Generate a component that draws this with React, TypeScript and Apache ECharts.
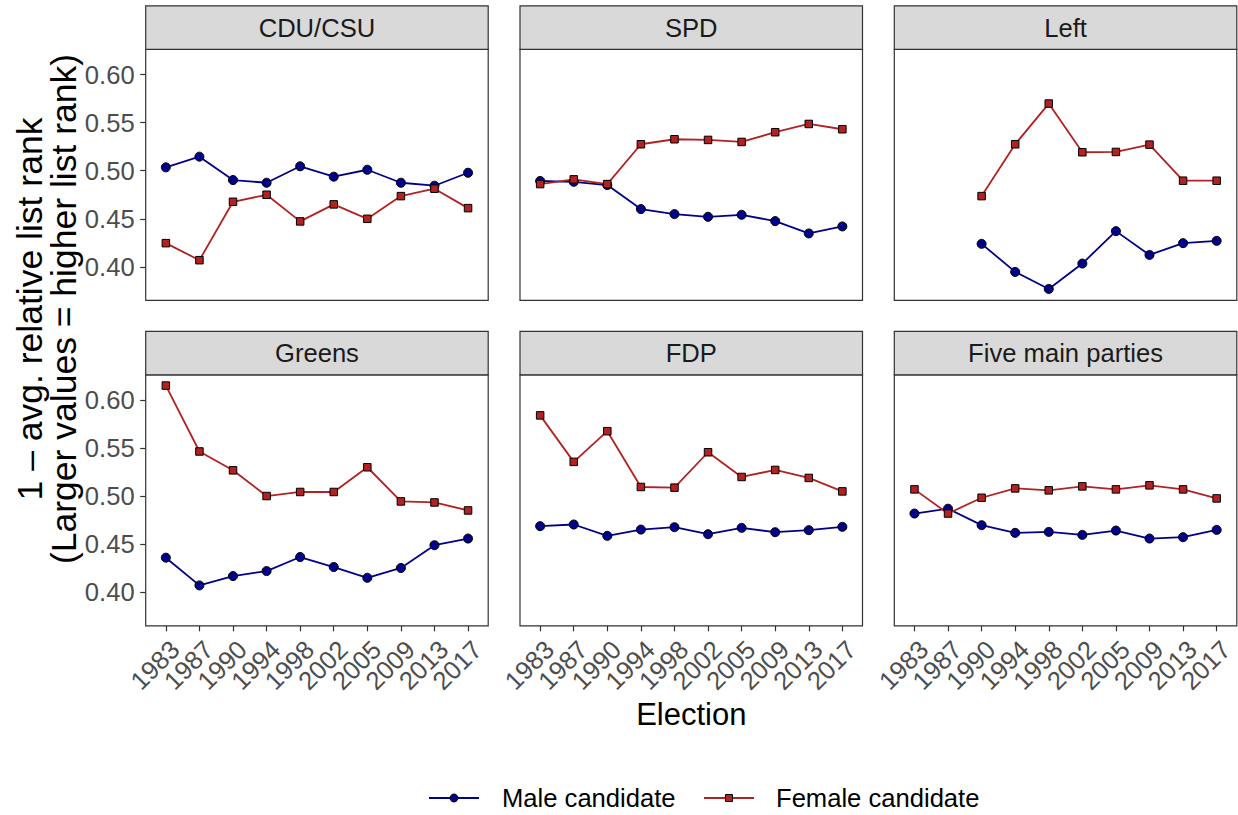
import React, { useEffect, useRef } from "react";
import * as echarts from "echarts";

const years = ["1983", "1987", "1990", "1994", "1998", "2002", "2005", "2009", "2013", "2017"];
const panelTitles = ["CDU/CSU", "SPD", "Left", "Greens", "FDP", "Five main parties"];
const yTicks = [0.4, 0.45, 0.5, 0.55, 0.6];

const cduMale = [0.5035, 0.5146, 0.4903, 0.4875, 0.5046, 0.4938, 0.501, 0.4875, 0.4844, 0.4979];
const cduFemale = [0.4247, 0.407, 0.4677, 0.475, 0.4473, 0.465, 0.45, 0.4736, 0.4813, 0.4611];
const spdMale = [0.4893, 0.4885, 0.4851, 0.4601, 0.4549, 0.4521, 0.4542, 0.4476, 0.4348, 0.4421];
const spdFemale = [0.4861, 0.491, 0.4861, 0.5275, 0.5327, 0.532, 0.5299, 0.54, 0.5486, 0.5431];
const leftMale = [null, null, 0.424, 0.3948, 0.3771, 0.4035, 0.4372, 0.4125, 0.4247, 0.4271];
const leftFemale = [null, null, 0.4736, 0.5275, 0.5698, 0.5192, 0.5195, 0.5271, 0.4896, 0.4896];
const greensMale = [0.4361, 0.4073, 0.417, 0.4222, 0.4368, 0.4264, 0.4152, 0.4254, 0.4491, 0.456];
const greensFemale = [0.615, 0.5465, 0.5269, 0.5002, 0.5044, 0.5044, 0.5301, 0.4946, 0.4935, 0.4852];
const fdpMale = [0.4689, 0.4706, 0.4588, 0.4653, 0.4678, 0.4605, 0.4671, 0.4626, 0.4647, 0.4682];
const fdpFemale = [0.584, 0.5357, 0.5676, 0.5096, 0.5089, 0.5457, 0.52, 0.5273, 0.519, 0.505];
const allMale = [0.482, 0.487, 0.4699, 0.4619, 0.4629, 0.4598, 0.4643, 0.456, 0.4574, 0.465];
const allFemale = [0.5071, 0.482, 0.4984, 0.5081, 0.5061, 0.5102, 0.5071, 0.5113, 0.5071, 0.4977];

const maleSeries = [cduMale, spdMale, leftMale, greensMale, fdpMale, allMale];
const femaleSeries = [cduFemale, spdFemale, leftFemale, greensFemale, fdpFemale, allFemale];

const MALE_NAME = "Male candidate";
const FEMALE_NAME = "Female candidate";
const Y_TITLE_1 = "1 \u2013 avg. relative list rank";
const Y_TITLE_2 = "(Larger values = higher list rank)";
const X_TITLE = "Election";

const FONT = "'Liberation Sans', Arial, Helvetica, sans-serif";
const MALE_COLOR = "#00008B";
const FEMALE_COLOR = "#B22222";
const BORDER = "#333333";

const colLeft = [145.7, 520, 894.3];
const plotW = 342.5;
const rowTop = [49.3, 374.8];
const plotH = 251;
const stripH = 43.5;
const yMin = 0.3653;
const yMax = 0.6262;

function toPairs(arr: (number | null)[]) {
  const out: [number, number][] = [];
  arr.forEach((v, i) => {
    if (v !== null) out.push([i, v]);
  });
  return out;
}

export default function App() {
  const ref = useRef<HTMLDivElement>(null);
  useEffect(() => {
    if (!ref.current) return;
    const chart = echarts.init(ref.current, undefined, { renderer: "svg" });
    const grids: any[] = [];
    const xAxes: any[] = [];
    const yAxes: any[] = [];
    const series: any[] = [];
    const graphics: any[] = [];
    const idx = years.map((_, i) => i);
    const evenIdx = idx.filter((i) => i % 2 === 0);
    const oddIdx = idx.filter((i) => i % 2 === 1);

    const xLabelStyle = (show: boolean, values: number[]) => ({
      show,
      customValues: values,
      showMinLabel: true,
      showMaxLabel: true,
      hideOverlap: false,
      formatter: (v: number) => years[Math.round(v)] ?? "",
      rotate: 45,
      align: "right",
      verticalAlign: "top",
      margin: 10,
      fontSize: 25.6,
      color: "#4D4D4D",
      fontFamily: FONT,
    });

    panelTitles.forEach((title, p) => {
      const r = Math.floor(p / 3);
      const c = p % 3;
      const left = colLeft[c];
      const top = rowTop[r];
      grids.push({
        left,
        top,
        width: plotW,
        height: plotH,
        show: true,
        borderColor: BORDER,
        borderWidth: 1.2,
        backgroundColor: "#ffffff",
        containLabel: false,
      });
      const bottomRow = r === 1;
      const mainX = xAxes.length;
      xAxes.push({
        type: "value",
        gridIndex: p,
        position: "bottom",
        min: -0.6,
        max: 9.6,
        axisLine: { show: false, onZero: false },
        splitLine: { show: false },
        axisTick: {
          show: bottomRow,
          customValues: idx,
          length: 5.5,
          lineStyle: { color: BORDER, width: 1.2 },
        },
        axisLabel: xLabelStyle(bottomRow, evenIdx),
      });
      if (bottomRow) {
        xAxes.push({
          type: "value",
          gridIndex: p,
          position: "bottom",
          offset: 0,
          min: -0.6,
          max: 9.6,
          axisLine: { show: false, onZero: false },
          splitLine: { show: false },
          axisTick: { show: false },
          axisLabel: xLabelStyle(true, oddIdx),
        });
      }
      const firstCol = c === 0;
      yAxes.push({
        type: "value",
        gridIndex: p,
        min: yMin,
        max: yMax,
        axisLine: { show: false, onZero: false },
        splitLine: { show: false },
        axisTick: {
          show: firstCol,
          customValues: yTicks,
          length: 5.5,
          lineStyle: { color: BORDER, width: 1.2 },
        },
        axisLabel: {
          show: firstCol,
          customValues: yTicks,
          showMinLabel: true,
          showMaxLabel: true,
          formatter: (v: number) => v.toFixed(2),
          margin: 11,
          fontSize: 25.6,
          color: "#4D4D4D",
          fontFamily: FONT,
        },
      });
      series.push({
        type: "line",
        name: MALE_NAME,
        xAxisIndex: mainX,
        yAxisIndex: p,
        data: toPairs(maleSeries[p]),
        symbol: "circle",
        symbolSize: 9,
        showAllSymbol: true,
        lineStyle: { color: MALE_COLOR, width: 1.8 },
        itemStyle: { color: MALE_COLOR, borderColor: "#000000", borderWidth: 1 },
        emphasis: { disabled: true },
      });
      series.push({
        type: "line",
        name: FEMALE_NAME,
        xAxisIndex: mainX,
        yAxisIndex: p,
        data: toPairs(femaleSeries[p]),
        symbol: "rect",
        symbolSize: 7.5,
        showAllSymbol: true,
        lineStyle: { color: FEMALE_COLOR, width: 1.8 },
        itemStyle: { color: FEMALE_COLOR, borderColor: "#000000", borderWidth: 1 },
        emphasis: { disabled: true },
      });
      graphics.push({
        type: "rect",
        shape: { x: left, y: top - stripH, width: plotW, height: stripH },
        style: { fill: "#D9D9D9", stroke: BORDER, lineWidth: 1.2 },
        z: 10,
      });
      graphics.push({
        type: "text",
        x: left + plotW / 2,
        y: top - stripH / 2,
        style: {
          text: title,
          fontSize: 25.6,
          fontFamily: FONT,
          fill: "#1A1A1A",
          align: "center",
          verticalAlign: "middle",
          textAlign: "center",
          textVerticalAlign: "middle",
        },
        z: 11,
      });
    });

    const centered = { align: "center", verticalAlign: "middle", textAlign: "center", textVerticalAlign: "middle" };
    const leftMid = { align: "left", verticalAlign: "middle", textAlign: "left", textVerticalAlign: "middle" };
    const textStyle = (text: string, size: number, extra: any = {}) => ({
      text,
      fontSize: size,
      fontFamily: FONT,
      fill: "#000000",
      ...extra,
    });

    graphics.push({
      type: "text",
      x: 30,
      y: 309,
      rotation: Math.PI / 2,
      style: textStyle(Y_TITLE_1, 35.5, centered),
    });
    graphics.push({
      type: "text",
      x: 64,
      y: 309,
      rotation: Math.PI / 2,
      style: textStyle(Y_TITLE_2, 35.5, centered),
    });
    graphics.push({
      type: "text",
      x: 691.3,
      y: 714,
      style: textStyle(X_TITLE, 31, centered),
    });

    const ly = 798;
    graphics.push({ type: "line", shape: { x1: 429, y1: ly, x2: 479, y2: ly }, style: { stroke: MALE_COLOR, lineWidth: 1.8 } });
    graphics.push({ type: "circle", shape: { cx: 454, cy: ly, r: 4 }, style: { fill: MALE_COLOR, stroke: "#000", lineWidth: 1 } });
    graphics.push({ type: "text", x: 502, y: ly, style: textStyle(MALE_NAME, 25.6, leftMid) });
    graphics.push({ type: "line", shape: { x1: 704, y1: ly, x2: 754, y2: ly }, style: { stroke: FEMALE_COLOR, lineWidth: 1.8 } });
    graphics.push({ type: "rect", shape: { x: 725.5, y: ly - 3.5, width: 7, height: 7 }, style: { fill: FEMALE_COLOR, stroke: "#000", lineWidth: 1 } });
    graphics.push({ type: "text", x: 776, y: ly, style: textStyle(FEMALE_NAME, 25.6, leftMid) });

    chart.setOption({
      animation: false,
      backgroundColor: "#ffffff",
      grid: grids,
      xAxis: xAxes,
      yAxis: yAxes,
      series,
      graphic: graphics,
    });
    return () => chart.dispose();
  }, []);

  return (
    <div
      ref={ref}
      style={{ position: "fixed", left: 0, top: 0, width: 1238, height: 815, background: "#fff" }}
    />
  );
}
